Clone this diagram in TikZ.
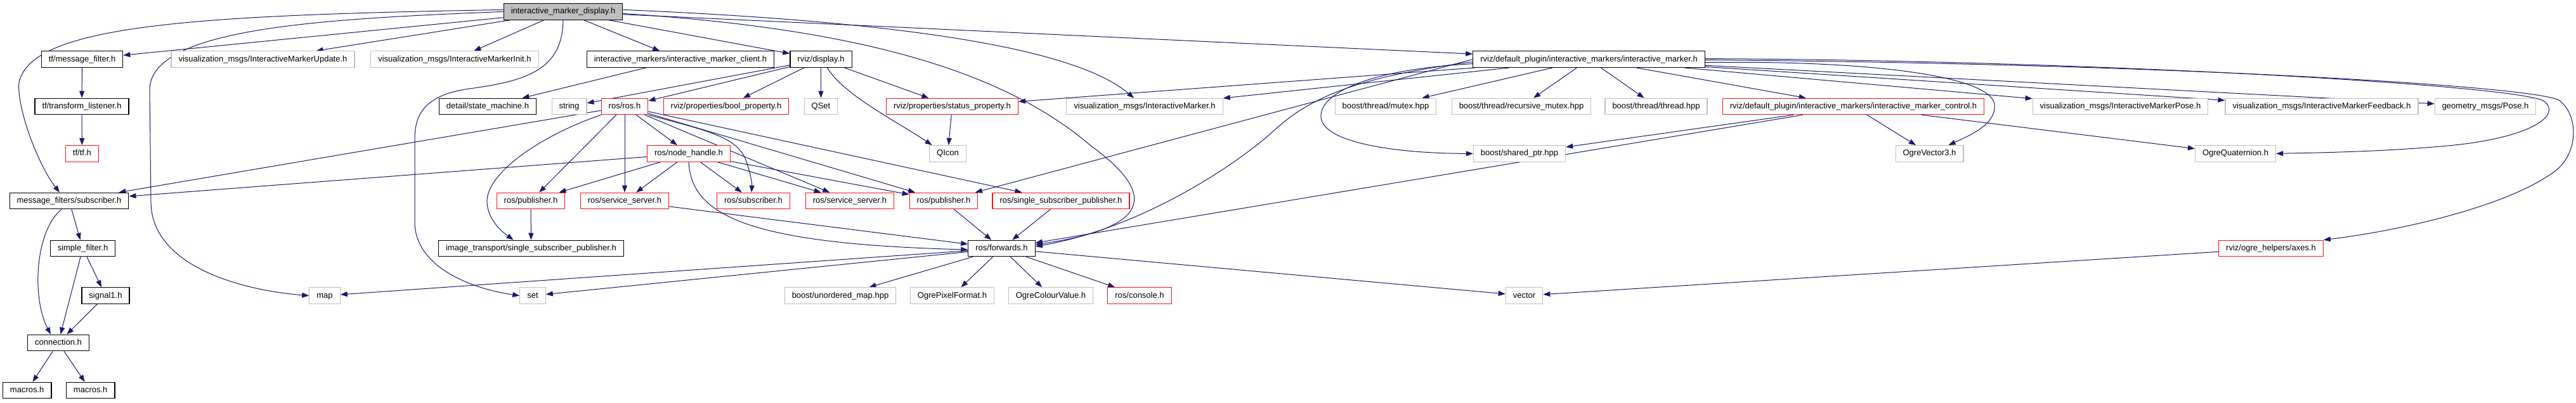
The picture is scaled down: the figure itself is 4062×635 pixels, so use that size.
\documentclass[tikz,border=0pt]{standalone}
\usepackage{fontspec}
\setmainfont{Liberation Sans}
\usetikzlibrary{arrows.meta,backgrounds}
\definecolor{edge}{RGB}{25,25,112}
\definecolor{shade}{RGB}{191,191,191}
\definecolor{warn}{RGB}{255,20,20}

\begin{document}
\begin{tikzpicture}[x=1pt,y=-1pt,
  box/.style={draw=black,line width=1.2pt,fill=white,font=\fontsize{13}{15}\selectfont,inner xsep=11.5pt,inner ysep=0pt,minimum height=25.5pt,text height=9.5pt,text depth=2.7pt},
  gbox/.style={box,draw=shade},
  rbox/.style={box,draw=warn},
  cur/.style={box,fill=shade},
  ar/.style={draw=edge,line width=1pt,-{Triangle[length=11pt,width=8pt]}}]
\useasboundingbox (0,0) rectangle (4062,635);
\node[cur]  (top)      at (888,18.4)    {interactive\_marker\_display.h};
\node[box]  (tfmf)     at (129.5,93.6)  {tf/message\_filter.h};
\node[gbox] (imupd)    at (414.5,93.6)  {visualization\_msgs/InteractiveMarkerUpdate.h};
\node[gbox] (iminit)   at (717,93.6)    {visualization\_msgs/InteractiveMarkerInit.h};
\node[box]  (imclient) at (1073,93.6)   {interactive\_markers/interactive\_marker\_client.h};
\node[box]  (display)  at (1294.5,93.6) {rviz/display.h};
\node[box]  (imarker)  at (2505.5,93.6) {rviz/default\_plugin/interactive\_markers/interactive\_marker.h};
\node[box]  (tflist)   at (129,168)     {tf/transform\_listener.h};
\node[box]  (statem)   at (769,168)     {detail/state\_machine.h};
\node[gbox] (string)   at (897.5,168)   {string};
\node[rbox] (rosros)   at (985,168)     {ros/ros.h};
\node[rbox] (boolprop) at (1145,168)    {rviz/properties/bool\_property.h};
\node[gbox] (qset)     at (1294.5,168)  {QSet};
\node[rbox] (statprop) at (1501.5,168)  {rviz/properties/status\_property.h};
\node[gbox] (vimarker) at (1805,168)    {visualization\_msgs/InteractiveMarker.h};
\node[gbox] (mutex)    at (2185,168)    {boost/thread/mutex.hpp};
\node[gbox] (rmutex)   at (2399,168)    {boost/thread/recursive\_mutex.hpp};
\node[gbox] (thread)   at (2611.5,168)  {boost/thread/thread.hpp};
\node[rbox] (control)  at (2922.5,168)  {rviz/default\_plugin/interactive\_markers/interactive\_marker\_control.h};
\node[gbox] (impose)   at (3343.5,168)  {visualization\_msgs/InteractiveMarkerPose.h};
\node[gbox] (imfeed)   at (3661,168)    {visualization\_msgs/InteractiveMarkerFeedback.h};
\node[gbox] (pose)     at (3919,168)    {geometry\_msgs/Pose.h};
\node[rbox] (tftf)     at (129.4,242.4) {tf/tf.h};
\node[rbox] (nodeh)    at (1086,242.4)  {ros/node\_handle.h};
\node[gbox] (qicon)    at (1494.5,242.4) {QIcon};
\node[gbox] (sharedptr) at (2396,242.4) {boost/shared\_ptr.hpp};
\node[gbox] (vec3)     at (3042.5,242.4) {OgreVector3.h};
\node[gbox] (quat)     at (3525,242.4)  {OgreQuaternion.h};
\node[box]  (mfsub)    at (109,317)     {message\_filters/subscriber.h};
\node[rbox] (pubA)     at (837,317)     {ros/publisher.h};
\node[rbox] (ssA)      at (985,317)     {ros/service\_server.h};
\node[rbox] (rossub)   at (1188,317)    {ros/subscriber.h};
\node[rbox] (ssB)      at (1340,317)    {ros/service\_server.h};
\node[rbox] (pubB)     at (1488,317)    {ros/publisher.h};
\node[rbox] (sspub)    at (1673,317)    {ros/single\_subscriber\_publisher.h};
\node[box]  (sfilter)  at (130.5,392)   {simple\_filter.h};
\node[box]  (itssp)    at (837.5,392)   {image\_transport/single\_subscriber\_publisher.h};
\node[box]  (fwd)      at (1579.5,392)  {ros/forwards.h};
\node[rbox] (axes)     at (3581,392)    {rviz/ogre\_helpers/axes.h};
\node[box]  (signal)   at (166.5,466.6) {signal1.h};
\node[gbox] (map)      at (512,466.6)   {map};
\node[gbox] (set)      at (840,466.6)   {set};
\node[gbox] (umap)     at (1325,466.6)  {boost/unordered\_map.hpp};
\node[gbox] (pixfmt)   at (1501.5,466.6) {OgrePixelFormat.h};
\node[gbox] (colval)   at (1657,466.6)  {OgreColourValue.h};
\node[rbox] (console)  at (1797,466.6)  {ros/console.h};
\node[gbox] (vector)   at (2403.5,466.6) {vector};
\node[box]  (conn)     at (92,541)      {connection.h};
\node[box]  (macA)     at (42.7,616)    {macros.h};
\node[box]  (macB)     at (142.7,616)   {macros.h};
\begin{scope}[on background layer]
\draw[ar] ([yshift=3]top.west) .. controls (300,24) and (50,40) .. (30,130) .. controls (26,170) and (60,260) .. ([xshift=-15]mfsub.north);
\draw[ar] (top) -- (tfmf);
\draw[ar] (top.west) .. controls (500,30) and (240,45) .. (236,140) -- (238,320) .. controls (240,420) and (380,458) .. (map.west);
\draw[ar] (top) -- (imupd);
\draw[ar] (top) -- (iminit);
\draw[ar] (top.south) .. controls (887,110) and (830,128) .. (740,140) .. controls (670,150) and (654,180) .. (654,220) -- (654,350) .. controls (654,420) and (740,455) .. (set.west);
\draw[ar] (top) -- (imclient);
\draw[ar] (top) -- (display);
\draw[ar] ([yshift=3]top.east) .. controls (1450,35) and (1700,80) .. ([xshift=-17]vimarker.north);
\draw[ar] (top) -- (imarker);
\draw[ar] ([yshift=-3]top.east) .. controls (1350,45) and (1580,110) .. (1720,230) .. controls (1830,310) and (1810,360) .. ([yshift=6]fwd.east);
\draw[ar] (tfmf) -- (tflist);
\draw[ar] (tflist) -- (tftf);
\draw[ar] (mfsub) -- (sfilter);
\draw[ar] ([xshift=-12]mfsub.south) .. controls (55,365) and (50,470) .. ([xshift=-12]conn.north);
\draw[ar] (sfilter) -- (conn);
\draw[ar] (sfilter) -- (signal);
\draw[ar] (signal) -- (conn);
\draw[ar] (conn) -- (macA);
\draw[ar] (conn) -- (macB);
\draw[ar] (imclient) -- (statem);
\draw[ar] (display) -- (string);
\draw[ar] (display) -- (rosros);
\draw[ar] (display) -- (boolprop);
\draw[ar] (display) -- (qset);
\draw[ar] (display) -- (statprop);
\draw[ar] ([xshift=10]display.south) .. controls (1330,150) and (1420,195) .. ([xshift=-25]qicon.north);
\draw[ar] (statprop) -- (qicon);
\draw[ar] (rosros) -- (mfsub);
\draw[ar] (rosros.south west) .. controls (850,215) and (765,275) .. (768,320) .. controls (770,350) and (795,368) .. ([xshift=-28]itssp.north);
\draw[ar] (rosros) -- (pubA);
\draw[ar] (rosros) -- (ssA);
\draw[ar] (rosros) -- (nodeh);
\draw[ar] (rosros.south east) .. controls (1110,205) and (1160,215) .. (1175,250) .. controls (1183,270) and (1186,290) .. ([xshift=-3]rossub.north);
\draw[ar] (rosros) -- (ssB);
\draw[ar] (rosros) -- (pubB);
\draw[ar] (rosros) -- (sspub);
\draw[ar] (nodeh) -- (mfsub);
\draw[ar] (nodeh) -- (pubA);
\draw[ar] (nodeh) -- (ssA);
\draw[ar] (nodeh) -- (rossub);
\draw[ar] (nodeh) -- (ssB);
\draw[ar] (nodeh) -- (pubB);
\draw[ar] (nodeh.south) .. controls (1090,340) and (1180,385) .. ([yshift=-2]fwd.west);
\draw[ar] (ssA) -- (fwd);
\draw[ar] (pubA) -- (itssp);
\draw[ar] (pubB) -- (fwd);
\draw[ar] (sspub) -- (fwd);
\draw[ar] (fwd) -- (map);
\draw[ar] (fwd) -- (set);
\draw[ar] (fwd) -- (umap);
\draw[ar] (fwd) -- (pixfmt);
\draw[ar] (fwd) -- (colval);
\draw[ar] (fwd) -- (console);
\draw[ar] (fwd) -- (vector);
\draw[ar] (imarker) -- (mutex);
\draw[ar] (imarker) -- (rmutex);
\draw[ar] (imarker) -- (thread);
\draw[ar] (imarker) -- (control);
\draw[ar] (imarker) -- (statprop);
\draw[ar] (imarker) -- (vimarker);
\draw[ar] (imarker.west) -- (pubB);
\draw[ar] ([yshift=-4]imarker.west) .. controls (2150,120) and (2070,150) .. (2010,205) .. controls (1950,260) and (1800,360) .. ([yshift=3]fwd.east);
\draw[ar] ([yshift=-7]imarker.west) .. controls (2150,110) and (2080,150) .. (2083,185) .. controls (2086,225) and (2200,242) .. (sharedptr.west);
\draw[ar] (imarker) -- (impose);
\draw[ar] (imarker) -- (imfeed);
\draw[ar] (imarker) -- (pose);
\draw[ar] ([yshift=-5]imarker.east) .. controls (2950,95) and (3140,120) .. (3145,165) .. controls (3148,195) and (3110,212) .. ([xshift=30]vec3.north);
\draw[ar] ([yshift=1]imarker.east) .. controls (3300,95) and (3980,135) .. (4012,160) .. controls (4040,182) and (3990,218) .. (3860,230) .. controls (3750,240) and (3650,241) .. (quat.east);
\draw[ar] ([yshift=-1]imarker.east) .. controls (3400,100) and (3990,135) .. (4035,158) .. controls (4065,180) and (4066,235) .. (4035,265) .. controls (3970,320) and (3800,362) .. (axes.north east);
\draw[ar] (control) -- (sharedptr);
\draw[ar] (control) -- (fwd);
\draw[ar] (control) -- (vec3);
\draw[ar] (control) -- (quat);
\draw[ar] (axes) -- (vector);
\end{scope}
\end{tikzpicture}
\end{document}
